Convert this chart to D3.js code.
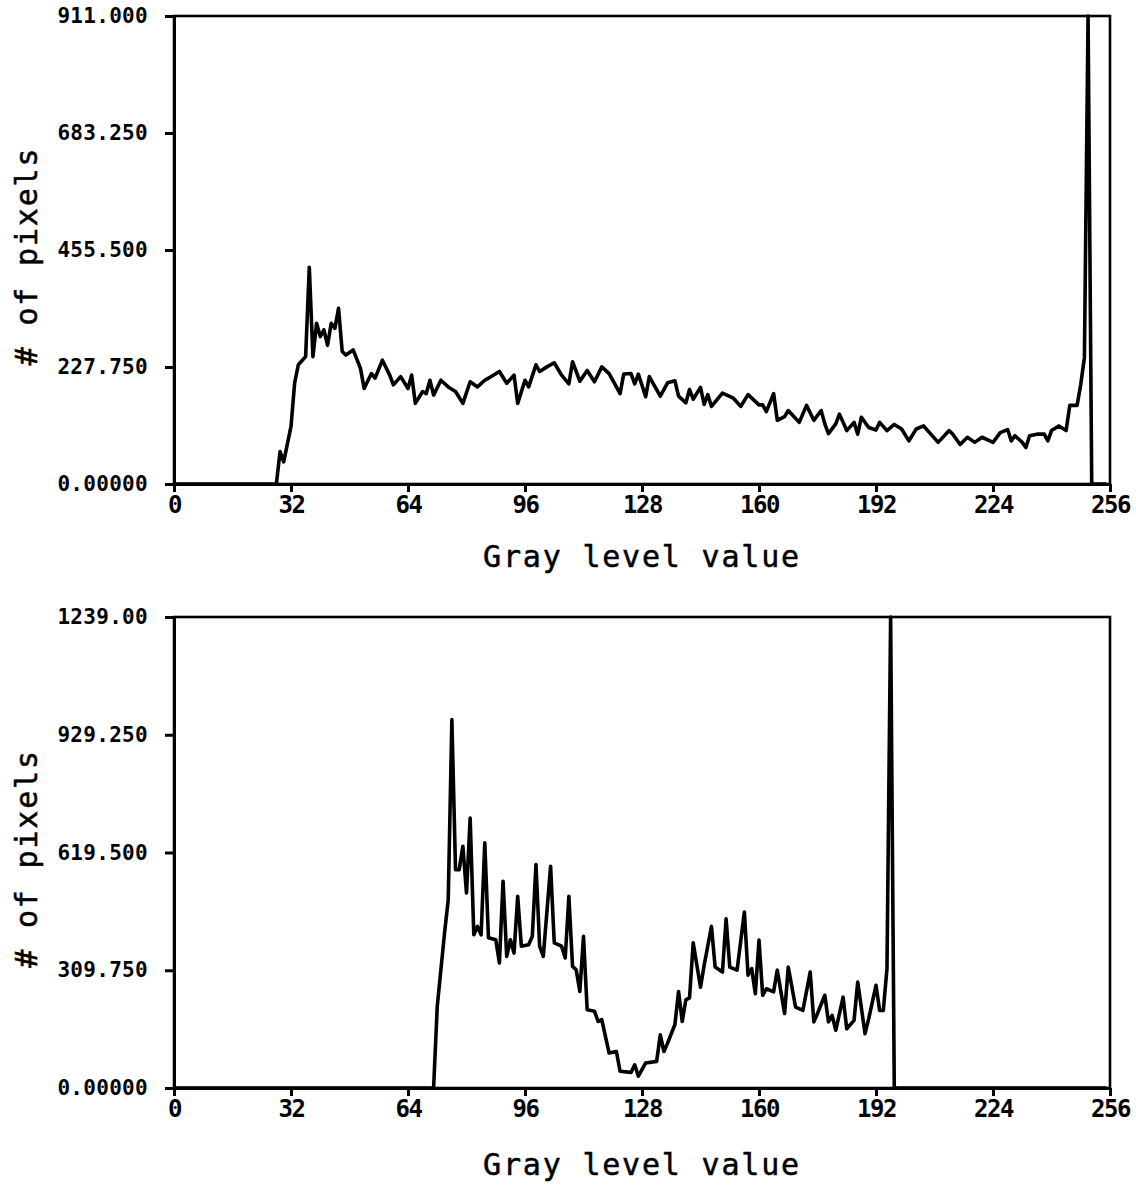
<!DOCTYPE html>
<html>
<head>
<meta charset="utf-8">
<script src="https://cdn.jsdelivr.net/npm/d3@7"></script>
<style>
body { margin: 0; background: #fff; }
.axis text { font-family: "DejaVu Sans Mono", monospace; font-weight: bold; fill: #000; }
.title { font-family: "DejaVu Sans Mono", monospace; font-size: 30px; letter-spacing: 1.8px; fill: #000; stroke: #000; stroke-width: 0.5px; }
</style>
</head>
<body>
<div id="chart"></div>
<script>
// gray levels shared by both plots
var xTicks = [0, 32, 64, 96, 128, 160, 192, 224, 256];
var topTicks = [0, 227.75, 455.5, 683.25, 911];
var bottomTicks = [0, 309.75, 619.5, 929.25, 1239];

// [gray level, # of pixels]
var topHistogram = [
	[0, 0], [28, 0], [29, 63], [30, 43], [32, 112], [33, 197], [34, 232], [36, 248],
	[37, 422], [38, 248], [39, 313], [40, 287], [41, 300], [42, 270], [43, 313], [44, 303],
	[45, 342], [46, 258], [47, 251], [49, 261], [51, 225], [52, 186], [54, 215], [55, 206],
	[57, 241], [59, 212], [60, 193], [62, 209], [64, 186], [65, 212], [66, 157], [68, 180],
	[69, 176], [70, 202], [71, 173], [73, 202], [75, 189], [77, 180], [79, 157], [81, 199],
	[83, 189], [85, 202], [86, 206], [89, 219], [91, 196], [93, 212], [94, 157], [96, 202],
	[97, 189], [99, 232], [100, 219], [102, 228], [104, 236], [106, 212], [108, 195], [109, 238],
	[111, 200], [113, 221], [115, 199], [117, 228], [119, 215], [121, 189], [122, 176], [123, 214],
	[125, 215], [126, 195], [127, 214], [129, 170], [130, 209], [133, 171], [135, 197], [137, 201],
	[138, 171], [140, 158], [141, 184], [142, 165], [144, 188], [145, 155], [146, 174], [147, 151],
	[150, 177], [153, 167], [155, 151], [157, 174], [160, 154], [161, 154], [162, 141], [164, 176],
	[165, 124], [167, 131], [168, 143], [171, 120], [173, 153], [175, 124], [177, 143], [178, 117],
	[179, 98], [181, 117], [182, 136], [184, 104], [186, 120], [187, 97], [188, 130], [190, 110],
	[192, 105], [193, 120], [195, 104], [197, 116], [199, 107], [201, 84], [203, 107], [205, 113],
	[207, 97], [209, 81], [212, 104], [213, 97], [215, 77], [217, 91], [219, 81], [221, 91],
	[224, 81], [226, 100], [228, 106], [229, 84], [230, 94], [232, 81], [233, 71], [234, 94],
	[236, 97], [238, 97], [239, 84], [240, 104], [242, 113], [244, 104], [245, 153], [247, 153],
	[248, 194], [249, 246], [250, 911], [251, 0], [255, 0]
];

var bottomHistogram = [
	[0, 0], [71, 0], [72, 215], [74, 408], [75, 495], [76, 969], [77, 574], [78, 574],
	[79, 636], [80, 513], [81, 710], [82, 403], [83, 425], [84, 403], [85, 645], [86, 395],
	[88, 390], [89, 329], [90, 544], [91, 346], [92, 390], [93, 355], [94, 504], [95, 373],
	[97, 377], [98, 399], [99, 588], [100, 373], [101, 346], [103, 583], [104, 382], [106, 373],
	[107, 342], [108, 504], [109, 320], [110, 311], [111, 254], [112, 399], [113, 206], [115, 202],
	[116, 175], [117, 180], [119, 92], [121, 96], [122, 44], [125, 41], [126, 61], [127, 31],
	[129, 66], [132, 70], [133, 140], [134, 96], [135, 118], [137, 167], [138, 254], [139, 175],
	[140, 232], [141, 237], [142, 382], [144, 265], [145, 323], [147, 425], [148, 318], [150, 305],
	[151, 445], [152, 318], [154, 310], [156, 463], [157, 297], [158, 314], [159, 248], [160, 389],
	[161, 244], [162, 261], [164, 253], [165, 310], [167, 196], [168, 318], [170, 213], [172, 204],
	[174, 305], [175, 174], [176, 196], [178, 244], [179, 174], [180, 191], [181, 152], [183, 239],
	[184, 156], [186, 178], [187, 279], [189, 143], [190, 182], [192, 270], [193, 204], [194, 204],
	[195, 314], [196, 1239], [197, 0], [255, 0]
];

var svg = d3.select("#chart")
	.append("svg")
	.attr("width", 1136)
	.attr("height", 1187);

var left = 174;
var right = 1110;

function drawHistogram(data, yTicks, top, bottom, titleY) {
	var xScale = d3.scaleLinear().domain([0, 256]).range([left, right]);
	var yScale = d3.scaleLinear().domain([0, yTicks[yTicks.length - 1]]).range([bottom, top]);
	var chart = svg.append("g");

	// frame
	chart.append("rect")
		.attr("x", left)
		.attr("y", top)
		.attr("width", right - left)
		.attr("height", bottom - top)
		.attr("fill", "none")
		.attr("stroke", "#000")
		.attr("stroke-width", 2.6);

	var leftAxis = d3.axisLeft(yScale)
		.tickValues(yTicks)
		.tickFormat(d3.format(".6r"))
		.tickSize(9)
		.tickSizeOuter(0)
		.tickPadding(17);

	var bottomAxis = d3.axisBottom(xScale)
		.tickValues(xTicks)
		.tickSize(8)
		.tickSizeOuter(0)
		.tickPadding(4);

	var yAxis = chart.append("g").attr("class", "axis")
		.attr("transform", `translate(${left}, 0)`)
		.call(leftAxis);
	yAxis.selectAll("text").attr("font-size", "21px").attr("letter-spacing", "0.3px");

	var xAxis = chart.append("g").attr("class", "axis")
		.attr("transform", `translate(0, ${bottom})`)
		.call(bottomAxis);
	xAxis.selectAll("text").attr("font-size", "24px").attr("letter-spacing", "-1.5px");

	chart.selectAll(".axis path, .axis line")
		.attr("stroke", "#000")
		.attr("stroke-width", 3);

	// histogram trace
	var line = d3.line()
		.x(d => xScale(d[0]))
		.y(d => yScale(d[1]));

	chart.append("path")
		.datum(data)
		.attr("d", line)
		.attr("fill", "none")
		.attr("stroke", "#000")
		.attr("stroke-width", 3.6)
		.attr("stroke-linejoin", "round");

	chart.append("text")
		.attr("class", "title")
		.attr("x", (left + right) / 2)
		.attr("y", titleY)
		.attr("text-anchor", "middle")
		.text("Gray level value");

	chart.append("text")
		.attr("class", "title")
		.attr("transform", `translate(37, ${(top + bottom) / 2 + 6}) rotate(-90)`)
		.attr("text-anchor", "middle")
		.text("# of pixels");
}

drawHistogram(topHistogram, topTicks, 16, 484, 567);
drawHistogram(bottomHistogram, bottomTicks, 617, 1088, 1175);
</script>
</body>
</html>
